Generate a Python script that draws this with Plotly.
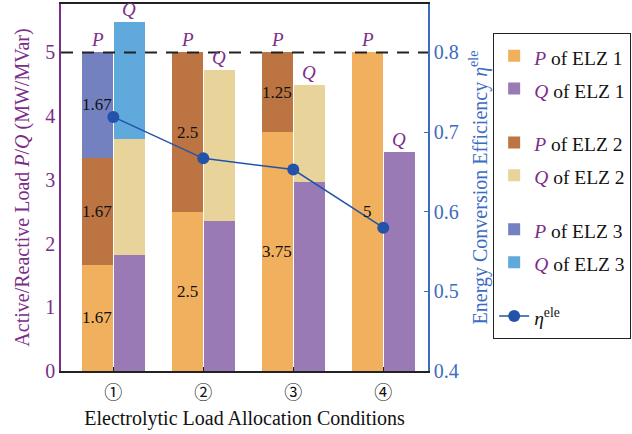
import plotly.graph_objects as go

# ---- data ----
conditions = ["①", "②", "③", "④"]
p_elz1 = [1.67, 2.5, 3.75, 5.0]
p_elz2 = [1.67, 2.5, 1.25, 0.0]
p_elz3 = [1.67, 0.0, 0.0, 0.0]
q_elz1 = [1.82, 2.36, 2.97, 3.44]
q_elz2 = [1.82, 2.36, 1.52, 0.0]
q_elz3 = [1.83, 0.0, 0.0, 0.0]
eta_ele = [0.719, 0.667, 0.653, 0.580]

FONT = "Liberation Serif, Times New Roman, serif"
PURPLE = "#7B2D8A"
BLUE = "#3B6CC0"
C_P1, C_Q1 = "#F1B05E", "#9A7AB5"
C_P2, C_Q2 = "#BC7443", "#E8D49A"
C_P3, C_Q3 = "#7381C0", "#5FA9DC"
C_LINE = "#2253A9"

OFF = 0.178
W = 0.345
xs = list(range(len(conditions)))
xp = [i - OFF for i in xs]
xq = [i + OFF for i in xs]


def lname(sym, n):
    return (f"<span style='font-size:19.5px'><span style='color:{PURPLE}'><i>{sym}</i></span>"
            f" of ELZ {n}</span>")


fig = go.Figure()
series = [
    (xp, p_elz1, C_P1, lname("P", 1), "g1"),
    (xq, q_elz1, C_Q1, lname("Q", 1), "g1"),
    (xp, p_elz2, C_P2, lname("P", 2), "g2"),
    (xq, q_elz2, C_Q2, lname("Q", 2), "g2"),
    (xp, p_elz3, C_P3, lname("P", 3), "g3"),
    (xq, q_elz3, C_Q3, lname("Q", 3), "g3"),
]
for x, y, c, name, g in series:
    fig.add_trace(go.Bar(x=x, y=y, width=W, marker=dict(color=c, line=dict(width=0)),
                         name=name, legendgroup=g))

fig.add_trace(go.Scatter(x=xs, y=eta_ele, yaxis="y2", mode="lines+markers",
                         line=dict(color=C_LINE, width=1.5),
                         marker=dict(color=C_LINE, size=12),
                         name="<span style='font-size:19.5px'><i>η</i><sup>ele</sup></span>",
                         legendgroup="g4"))

# value labels inside P bars, and P / Q labels above bars
annotations = []
for i in xs:
    base = 0.0
    for v in (p_elz1[i], p_elz2[i], p_elz3[i]):
        if v > 0:
            annotations.append(dict(x=xp[i], y=base + v / 2, text=f"{v:g}", showarrow=False,
                                    xref="x", yref="y",
                                    font=dict(family=FONT, size=17, color="#111")))
        base += v
    ptop = p_elz1[i] + p_elz2[i] + p_elz3[i]
    qtop = q_elz1[i] + q_elz2[i] + q_elz3[i]
    annotations.append(dict(x=xp[i], y=ptop, text="<i>P</i>", showarrow=False, yanchor="bottom",
                            font=dict(family=FONT, size=19, color=PURPLE)))
    annotations.append(dict(x=xq[i], y=qtop, text="<i>Q</i>", showarrow=False, yanchor="bottom",
                            font=dict(family=FONT, size=19, color=PURPLE)))

fig.update_layout(
    width=632, height=434,
    margin=dict(l=61, r=204, t=4, b=63, autoexpand=False),
    plot_bgcolor="white", paper_bgcolor="white",
    barmode="stack", bargap=0,
    font=dict(family=FONT, size=20, color="#111"),
    showlegend=True,
    legend=dict(x=1.177, y=0.921, xanchor="left", yanchor="top",
                bordercolor="#222", borderwidth=1.2, bgcolor="white",
                font=dict(family=FONT, size=23, color="#111"),
                traceorder="grouped", tracegroupgap=21, itemwidth=30),
    xaxis=dict(range=[-0.581, 3.497], tickvals=xs, ticktext=conditions,
               showline=True, linecolor="#222", linewidth=1.5, mirror=True,
               ticks="inside", ticklen=4, tickcolor="#222",
               showgrid=False, zeroline=False, ticklabelstandoff=5,
               tickfont=dict(family="Noto Sans CJK JP, DejaVu Sans, sans-serif", size=18,
                             color="#111"),
               title=dict(text="Electrolytic Load Allocation Conditions",
                          font=dict(family=FONT, size=20, color="#111"), standoff=8)),
    yaxis=dict(range=[0, 5.76], tickvals=[0, 1, 2, 3, 4, 5],
               showline=True, linecolor=PURPLE, linewidth=1.5,
               ticks="", showgrid=False, zeroline=False,
               tickfont=dict(family=FONT, size=20, color=PURPLE),
               title=dict(text="Active/Reactive Load <i>P</i>/<i>Q</i> (MW/MVar)",
                          font=dict(family=FONT, size=20, color=PURPLE), standoff=10)),
    yaxis2=dict(range=[0.4, 0.8608], overlaying="y", side="right",
                tickvals=[0.4, 0.5, 0.6, 0.7, 0.8],
                showline=True, linecolor=BLUE, linewidth=1.5,
                ticks="inside", ticklen=4, tickcolor=BLUE,
                showgrid=False, zeroline=False,
                tickfont=dict(family=FONT, size=20, color=BLUE),
                title=dict(text="Energy Conversion Efficiency <i>η</i><sup>ele</sup>",
                           font=dict(family=FONT, size=20, color=BLUE), standoff=15)),
    annotations=annotations,
    shapes=[dict(type="line", xref="paper", x0=0, x1=1, yref="y", y0=5, y1=5,
                 line=dict(color="#222", width=2, dash="12px,9px"), layer="above")],
)

fig.write_html("out.html", config={"displayModeBar": False},
               post_script="document.body.style.margin='0px';")
